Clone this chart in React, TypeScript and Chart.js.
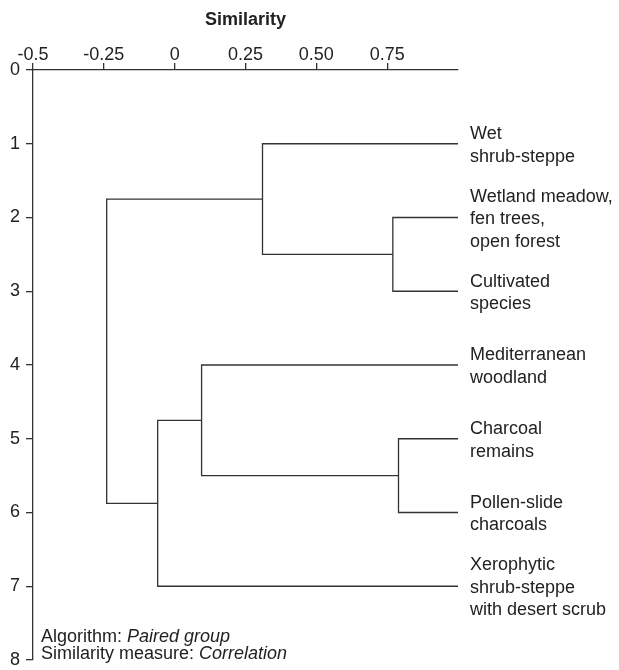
import React, { useEffect, useRef } from "react";
import { Chart, registerables } from "chart.js";

Chart.register(...registerables);

// Leaves (top to bottom), their positions on the vertical axis
const leafLabels: string[][] = [
  ["Wet", "shrub-steppe"],
  ["Wetland meadow,", "fen trees,", "open forest"],
  ["Cultivated", "species"],
  ["Mediterranean", "woodland"],
  ["Charcoal", "remains"],
  ["Pollen-slide", "charcoals"],
  ["Xerophytic", "shrub-steppe", "with desert scrub"],
];
const leafPositions = [1, 2, 3, 4, 5, 6, 7];
const leafSimilarity = 1.0;

// Merges: indices < 7 are leaves, 7+ refer to earlier merges (in order)
const mergeLeft = [1, 0, 4, 3, 10, 8];
const mergeRight = [2, 7, 5, 9, 6, 11];
const mergeSimilarity = [0.77, 0.31, 0.79, 0.095, -0.06, -0.24];

const xTickValues = [-0.5, -0.25, 0, 0.25, 0.5, 0.75];
const xTickLabels = ["-0.5", "-0.25", "0", "0.25", "0.50", "0.75"];
const yTickValues = [0, 1, 2, 3, 4, 5, 6, 7, 8];

const FONT = "'Liberation Sans', Arial, Helvetica, sans-serif";
const LINE = "#333333";
const TEXT = "#222222";

function buildSegments() {
  const nodeX: number[] = leafPositions.map(() => leafSimilarity);
  const nodeY: number[] = leafPositions.slice();
  const sets: { x: number; y: number }[][] = [];
  for (let i = 0; i < mergeSimilarity.length; i++) {
    const a = mergeLeft[i];
    const b = mergeRight[i];
    const s = mergeSimilarity[i];
    sets.push([
      { x: nodeX[a], y: nodeY[a] },
      { x: s, y: nodeY[a] },
      { x: s, y: nodeY[b] },
      { x: nodeX[b], y: nodeY[b] },
    ]);
    nodeX.push(s);
    nodeY.push((nodeY[a] + nodeY[b]) / 2);
  }
  return sets;
}

const textPlugin = {
  id: "dendroText",
  afterDraw(chart: any) {
    const ctx = chart.ctx;
    const xs = chart.scales.x;
    const ys = chart.scales.y;
    ctx.save();
    ctx.fillStyle = TEXT;
    ctx.textAlign = "left";
    ctx.textBaseline = "alphabetic";
    ctx.font = `18px ${FONT}`;
    const lx = xs.getPixelForValue(leafSimilarity) + 12;
    const lh = 22.5;
    leafLabels.forEach((lines, i) => {
      const cy = ys.getPixelForValue(leafPositions[i]);
      const first = cy - ((lines.length - 1) * lh) / 2 + 6.5;
      lines.forEach((t, j) => ctx.fillText(t, lx, first + j * lh));
    });
    // method notes
    const ax = chart.chartArea.left + 8;
    const b2 = chart.chartArea.bottom - 1;
    const b1 = b2 - 17.5;
    const drawMixed = (plain: string, ital: string, y: number) => {
      ctx.font = `18px ${FONT}`;
      ctx.fillText(plain, ax, y);
      const w = ctx.measureText(plain).width;
      ctx.font = `italic 18px ${FONT}`;
      ctx.fillText(ital, ax + w, y);
    };
    drawMixed("Algorithm: ", "Paired group", b1);
    drawMixed("Similarity measure: ", "Correlation", b2);
    ctx.restore();
  },
};

export default function App() {
  const ref = useRef<HTMLCanvasElement | null>(null);
  useEffect(() => {
    if (!ref.current) return;
    const segs = buildSegments();
    const chart = new Chart(ref.current, {
      type: "scatter",
      data: {
        datasets: segs.map((d) => ({
          data: d,
          showLine: true,
          borderColor: LINE,
          borderWidth: 1.3,
          pointRadius: 0,
          pointHoverRadius: 0,
          tension: 0,
          fill: false,
        })),
      },
      options: {
        responsive: false,
        animation: false,
        events: [],
        layout: { padding: { left: 0, top: 0, right: 161, bottom: 10 } },
        plugins: {
          legend: { display: false },
          tooltip: { enabled: false },
          title: { display: false },
        },
        scales: {
          x: {
            type: "linear",
            position: "top",
            min: -0.5,
            max: 1.0,
            afterBuildTicks: (scale: any) => {
              scale.ticks = xTickValues.map((v) => ({ value: v }));
            },
            afterFit: (scale: any) => {
              scale.height = 70;
              scale.paddingLeft = 0;
              scale.paddingRight = 0;
            },
            ticks: {
              autoSkip: false,
              maxRotation: 0,
              padding: -3,
              color: TEXT,
              font: { family: FONT, size: 18 },
              callback: (v: any) => {
                const i = xTickValues.indexOf(Number(v));
                return i >= 0 ? xTickLabels[i] : "";
              },
            },
            grid: {
              display: true,
              drawOnChartArea: false,
              drawTicks: true,
              tickLength: 7,
              color: LINE,
              lineWidth: 1.3,
            },
            border: { display: true, color: LINE, width: 1.3 },
            title: {
              display: true,
              text: "Similarity",
              color: TEXT,
              font: { family: FONT, size: 18, weight: "bold" },
              padding: { top: 9, bottom: 0 },
            },
          },
          y: {
            type: "linear",
            reverse: true,
            min: 0,
            max: 8,
            afterBuildTicks: (scale: any) => {
              scale.ticks = yTickValues.map((v) => ({ value: v }));
            },
            afterFit: (scale: any) => {
              scale.width = 33;
              scale.paddingTop = 0;
              scale.paddingBottom = 0;
            },
            ticks: {
              autoSkip: false,
              padding: 6,
              color: TEXT,
              font: { family: FONT, size: 18 },
              callback: (v: any) => String(v),
            },
            grid: {
              display: true,
              drawOnChartArea: false,
              drawTicks: true,
              tickLength: 7,
              color: LINE,
              lineWidth: 1.3,
            },
            border: { display: true, color: LINE, width: 1.3 },
          },
        },
      },
      plugins: [textPlugin],
    } as any);
    return () => chart.destroy();
  }, []);
  return (
    <div style={{ position: "absolute", left: 0, top: 0, width: 619, height: 670, background: "#fff" }}>
      <canvas ref={ref} width={619} height={670} style={{ display: "block" }} />
    </div>
  );
}
